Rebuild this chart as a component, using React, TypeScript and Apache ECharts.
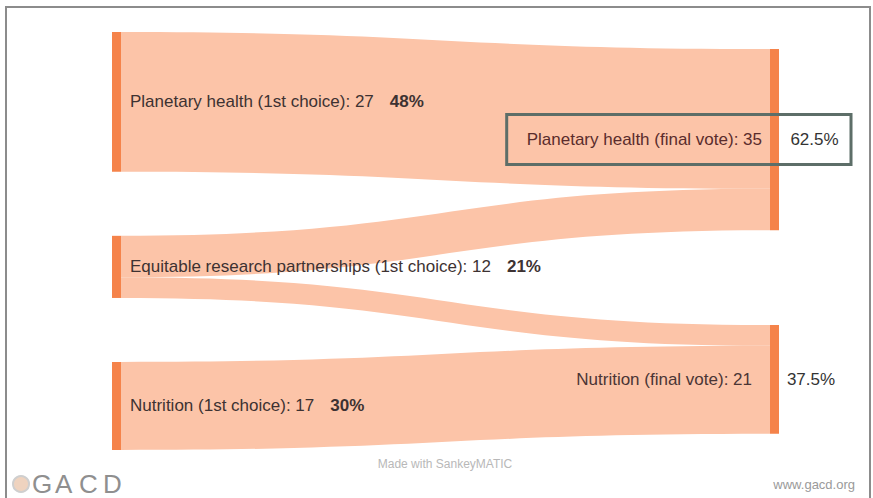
import React, { useEffect, useRef } from 'react';
import * as echarts from 'echarts';

const firstChoiceNodes = [
  'Planetary health (1st choice)',
  'Equitable research partnerships (1st choice)',
  'Nutrition (1st choice)',
];
const finalVoteNodes = ['Planetary health (final vote)', 'Nutrition (final vote)'];

const flowFrom = [
  'Planetary health (1st choice)',
  'Equitable research partnerships (1st choice)',
  'Equitable research partnerships (1st choice)',
  'Nutrition (1st choice)',
];
const flowTo = [
  'Planetary health (final vote)',
  'Planetary health (final vote)',
  'Nutrition (final vote)',
  'Nutrition (final vote)',
];
const flowValues = [27, 8, 4, 17];

const FONT = 'Liberation Sans, Arial, sans-serif';
const NODE_COLOR = '#f5834a';
const FLOW_COLOR = '#fcc4a8';
const TEXT = '#3d3232';

export default function App() {
  const ref = useRef<HTMLDivElement>(null);

  useEffect(() => {
    document.body.style.margin = '0';
    if (!ref.current) return;
    const chart = echarts.init(ref.current, null, { renderer: 'svg' });
    const total = flowValues.reduce((s, v) => s + v, 0);

    const leftLabel = {
      show: true,
      position: 'right',
      distance: 9,
      formatter: (p: any) =>
        `{a|${p.name}: ${p.value}}{g| }{p|${Math.round((p.value / total) * 100)}%}`,
      rich: {
        a: { fontSize: 17, color: TEXT, fontFamily: FONT, lineHeight: 20 },
        g: { width: 16, fontSize: 17, lineHeight: 20 },
        p: { fontSize: 17, color: TEXT, fontWeight: 'bold', fontFamily: FONT, lineHeight: 20 },
      },
    };

    const rightFormatter = (p: any) =>
      `{a|${p.name}: ${p.value}}{g| }{b|${((p.value / total) * 100).toFixed(1)}%}`;

    const nodes = [
      ...firstChoiceNodes.map((name) => ({ name, label: leftLabel })),
      {
        name: finalVoteNodes[0],
        label: {
          show: true,
          position: 'left',
          distance: 0,
          offset: [81, 0],
          padding: [15, 12, 15, 20],
          borderColor: '#5d6e68',
          borderWidth: 3,
          formatter: rightFormatter,
          rich: {
            a: { fontSize: 17, color: '#5a2c2c', fontFamily: FONT, lineHeight: 20 },
            g: { width: 28, fontSize: 17, lineHeight: 20 },
            b: { width: 49, align: 'left', fontSize: 17, color: '#333', fontFamily: FONT, lineHeight: 20 },
          },
        },
      },
      {
        name: finalVoteNodes[1],
        label: {
          show: true,
          position: 'left',
          distance: 0,
          offset: [69, 0],
          formatter: rightFormatter,
          rich: {
            a: { fontSize: 17, color: '#4a3535', fontFamily: FONT, lineHeight: 20 },
            g: { width: 31, fontSize: 17, lineHeight: 20 },
            b: { width: 56, align: 'left', fontSize: 17, color: '#333', fontFamily: FONT, lineHeight: 20 },
          },
        },
      },
    ];

    const links = flowValues.map((value, i) => ({
      source: flowFrom[i],
      target: flowTo[i],
      value,
    }));

    chart.setOption({
      animation: false,
      backgroundColor: '#ffffff',
      graphic: [
        {
          type: 'rect',
          shape: { x: 6, y: 7, width: 864, height: 510 },
          style: { fill: 'none', stroke: '#8c8c8c', lineWidth: 2 },
          z: 100,
        },
        {
          type: 'text',
          x: 445,
          y: 464,
          style: {
            text: 'Made with SankeyMATIC',
            fontSize: 12,
            fontFamily: FONT,
            fill: '#b8b8b8',
            align: 'center',
            verticalAlign: 'middle',
          },
        },
        {
          type: 'circle',
          shape: { cx: 21, cy: 484, r: 8 },
          style: { fill: '#efd3bf', stroke: '#cfcfcf', lineWidth: 2 },
        },
        ...['G', 'A', 'C', 'D'].map((ch, i) => ({
          type: 'text',
          x: [32, 55, 79, 103][i],
          y: 484,
          style: {
            text: ch,
            fontSize: 26,
            fontFamily: FONT,
            fill: '#8f8f8f',
            verticalAlign: 'middle',
          },
        })),
        {
          type: 'text',
          x: 855,
          y: 484,
          style: {
            text: 'www.gacd.org',
            fontSize: 13,
            fontFamily: FONT,
            fill: '#9a9a9a',
            align: 'right',
            verticalAlign: 'middle',
          },
        },
      ],
      series: [
        {
          type: 'sankey',
          left: 112,
          top: 32,
          right: 94,
          bottom: 48,
          nodeWidth: 9,
          nodeGap: 64,
          draggable: false,
          emphasis: { disabled: true },
          itemStyle: { color: NODE_COLOR, borderWidth: 0 },
          lineStyle: { color: FLOW_COLOR, opacity: 1, curveness: 0.5 },
          data: nodes,
          links,
        },
      ],
    });

    return () => chart.dispose();
  }, []);

  return (
    <div
      ref={ref}
      style={{ position: 'fixed', left: 0, top: 0, width: 873, height: 498 }}
    />
  );
}
